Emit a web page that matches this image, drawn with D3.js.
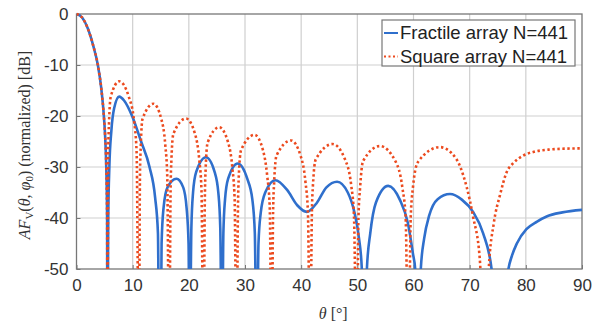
<!DOCTYPE html>
<html>
<head>
<meta charset="utf-8">
<script src="https://cdn.jsdelivr.net/npm/d3@7"></script>
<style>
  body { margin: 0; background: #fff; }
  svg { display: block; }
  .tick text { font-family: "Liberation Sans", Arial, sans-serif; }
</style>
</head>
<body>
<svg id="chart"></svg>
<script>
// values: [theta in degrees, level in dB]
// nulls that go below the axis are given as -70 and clipped
const fractile = [
    [0, 0], [1, -0.7], [2, -2.8], [3, -6.3], [3.8, -10], [4.4, -14.5], [4.8, -19], [5.1, -24], [5.3, -30], [5.45, -40], [5.5, -70],
    [5.65, -40], [5.85, -30], [6.2, -23], [6.7, -18.5], [7.6, -16.2], [8.5, -17], [9.9, -20], [11.5, -25], [13, -30], [14, -36], [14.5, -43], [14.75, -70],
    [14.95, -70], [15.15, -45], [15.5, -38], [16.2, -34], [17.8, -32.3], [19, -34], [19.6, -38], [19.95, -45], [20.15, -70],
    [20.45, -42], [20.75, -35], [21.3, -31], [23.05, -28.1], [24.6, -31], [25.25, -35], [25.6, -42], [25.9, -70],
    [26.15, -43], [26.45, -36.3], [27, -32.3], [28.7, -29.3], [30.4, -32.3], [31.3, -36.3], [31.75, -43], [32.1, -70],
    [32.4, -45], [32.8, -39], [33.6, -35], [35.4, -32.6], [37.5, -34.5], [39.3, -37.5], [41, -38.8], [42.8, -37], [44.5, -34],
    [46.4, -32.9], [48.3, -35], [49.5, -39], [50.3, -44], [50.8, -50], [51.2, -70],
    [51.7, -50], [52.3, -43], [53.3, -37], [55.5, -33.7], [57.6, -36.5], [59, -41], [59.9, -47], [60.3, -50], [60.8, -70],
    [61.3, -50], [61.9, -44], [62.8, -39.5], [64.3, -36.3], [66.5, -35.3], [68.6, -36.4], [70.6, -38.8], [72.4, -43], [73.9, -50], [75.4, -70],
    [76.9, -50], [77.5, -47.5], [78.4, -45], [80.1, -42.2], [82, -40.7], [83.7, -39.7], [86.5, -38.9], [90, -38.4],
];

const square = [
    [0, 0], [1, -0.7], [2, -2.8], [3, -6.3], [3.8, -10], [4.4, -14.5], [4.8, -19], [5.1, -24], [5.3, -30], [5.45, -40], [5.5, -70],
    [5.65, -27], [5.8, -21], [6.1, -16.2], [7.6, -13.2], [9.3, -16.2], [10.25, -21], [10.7, -27], [11.1, -70],
    [11.3, -31.6], [11.45, -25.6], [11.75, -20.6], [13.7, -17.6], [15.1, -20.6], [15.8, -25.6], [16.15, -31.6], [16.5, -70],
    [16.75, -34.5], [16.9, -28.5], [17.25, -23.5], [19.5, -20.5], [21.1, -23.5], [21.85, -28.5], [22.25, -34.5], [22.6, -70],
    [22.85, -36.2], [23, -30.2], [23.35, -25.2], [25.4, -22.2], [27, -25.2], [27.75, -30.2], [28.15, -36.2], [28.5, -70],
    [28.75, -37.7], [28.9, -31.7], [29.3, -26.7], [31.7, -23.7], [33.2, -26.7], [33.95, -31.7], [34.4, -37.7], [34.75, -70],
    [35, -38.8], [35.2, -32.8], [35.6, -27.8], [38.2, -24.8], [39.9, -27.8], [40.75, -32.8], [41.2, -38.8], [41.6, -70],
    [41.9, -39.5], [42.1, -33.5], [42.6, -28.5], [45.6, -25.5], [47.8, -28.5], [48.9, -33.5], [49.4, -39.5], [49.9, -70],
    [50.2, -39.9], [50.5, -33.9], [51, -28.9], [54, -25.9], [56.8, -28.9], [58, -33.9], [58.6, -39.9], [59.1, -70],
    [59.5, -40], [59.9, -34], [60.8, -29], [64.7, -26.1], [66.8, -27.3], [68.3, -29.9], [70.6, -39.7], [71.8, -48], [72.7, -70],
    [73.4, -50], [74.3, -41], [75.4, -35.5], [76.6, -31], [77.8, -29.2], [79.5, -27.8], [81.5, -27], [84, -26.6], [87, -26.4], [90, -26.35],
];

const xTicks = [0, 10, 20, 30, 40, 50, 60, 70, 80, 90];
const yTicks = [0, -10, -20, -30, -40, -50];
const legendLabels = ['Fractile array N=441', 'Square array N=441'];

const width = 602;
const height = 325;
const margin = { top: 14, right: 20, bottom: 56, left: 76.5 };
const blue = '#2f6fcc';
const red = '#ec4a1e';

const svg = d3.select('#chart')
    .attr('width', width)
    .attr('height', height);

const x = d3.scaleLinear().domain([0, 90]).range([margin.left, width - margin.right]);
const y = d3.scaleLinear().domain([-50, 0]).range([height - margin.bottom, margin.top]);

svg.append('clipPath').attr('id', 'plot-clip')
    .append('rect')
    .attr('x', x(0))
    .attr('y', y(0) - 2)
    .attr('width', x(90) - x(0))
    .attr('height', y(-50) - y(0) + 2);

// grid
svg.append('g')
    .selectAll('line')
    .data(xTicks.slice(1, -1))
    .join('line')
    .attr('x1', (d) => x(d)).attr('x2', (d) => x(d))
    .attr('y1', y(0)).attr('y2', y(-50))
    .attr('stroke', '#cfcfcf').attr('stroke-width', 1.2);
svg.append('g')
    .selectAll('line')
    .data(yTicks.slice(1, -1))
    .join('line')
    .attr('x1', x(0)).attr('x2', x(90))
    .attr('y1', (d) => y(d)).attr('y2', (d) => y(d))
    .attr('stroke', '#cfcfcf').attr('stroke-width', 1.2);

// axes
const xAxis = svg.append('g')
    .attr('transform', `translate(0,${y(-50)})`)
    .call(d3.axisBottom(x).tickValues(xTicks).tickSizeInner(-4).tickSizeOuter(0).tickPadding(10));
const yAxis = svg.append('g')
    .attr('transform', `translate(${x(0)},0)`)
    .call(d3.axisLeft(y).tickValues(yTicks).tickSizeInner(-4).tickSizeOuter(0).tickPadding(8)
        .tickFormat((d) => d3.format('d')(d).replace('−', '-')));
[xAxis, yAxis].forEach((g) => {
    g.select('.domain').remove();
    g.selectAll('.tick line').attr('stroke', '#777');
    g.selectAll('.tick text').attr('font-size', 17).attr('fill', '#333');
});

// plot frame
svg.append('rect')
    .attr('x', x(0)).attr('y', y(0))
    .attr('width', x(90) - x(0)).attr('height', y(-50) - y(0))
    .attr('fill', 'none').attr('stroke', '#777').attr('stroke-width', 1.3);

const line = d3.line()
    .x((d) => x(d[0]))
    .y((d) => y(d[1]))
    .curve(d3.curveMonotoneX);

const plot = svg.append('g').attr('clip-path', 'url(#plot-clip)');
plot.append('path')
    .datum(fractile)
    .attr('d', line)
    .attr('fill', 'none')
    .attr('stroke', blue)
    .attr('stroke-width', 2.6);
plot.append('path')
    .datum(square)
    .attr('d', line)
    .attr('fill', 'none')
    .attr('stroke', red)
    .attr('stroke-width', 2.6)
    .attr('stroke-dasharray', '2.4,2.6');

// legend
const legend = svg.append('g');
legend.append('rect')
    .attr('x', 382).attr('y', 20).attr('width', 193).attr('height', 46)
    .attr('fill', '#fff').attr('stroke', '#777').attr('stroke-width', 1.2);
const rows = legend.selectAll('g.row')
    .data(legendLabels)
    .join('g')
    .attr('class', 'row')
    .attr('transform', (d, i) => `translate(383,${33 + i * 23.5})`);
rows.append('line')
    .attr('x1', 1).attr('x2', 15)
    .attr('stroke', (d, i) => (i === 0 ? blue : red))
    .attr('stroke-width', 2)
    .attr('stroke-dasharray', (d, i) => (i === 0 ? null : '2,2.5'));
rows.append('text')
    .attr('x', 17)
    .attr('dy', '0.35em')
    .attr('font-family', '"Liberation Sans", Arial, sans-serif')
    .attr('font-size', 18.5)
    .attr('fill', '#222')
    .text((d) => d);

// axis titles
const serif = '"Liberation Serif", "Times New Roman", serif';
const xTitle = svg.append('text')
    .attr('x', (x(0) + x(90)) / 2 + 4)
    .attr('y', 313)
    .attr('dy', '0.35em')
    .attr('text-anchor', 'middle')
    .attr('font-family', serif)
    .attr('font-size', 16)
    .attr('fill', '#333');
xTitle.append('tspan').attr('font-style', 'italic').text('θ');
xTitle.append('tspan').text(' [°]');

const yTitle = svg.append('text')
    .attr('transform', `translate(24,${145}) rotate(-90)`)
    .attr('dy', '0.35em')
    .attr('text-anchor', 'middle')
    .attr('font-family', serif)
    .attr('font-size', 16)
    .attr('fill', '#333');
yTitle.append('tspan').attr('font-style', 'italic').text('AF');
yTitle.append('tspan').attr('font-size', 11).attr('dy', '0.3em').text('V');
yTitle.append('tspan').attr('dy', '-0.2em').text('(');
yTitle.append('tspan').attr('font-style', 'italic').text('θ');
yTitle.append('tspan').text(', ');
yTitle.append('tspan').attr('font-style', 'italic').text('φ');
yTitle.append('tspan').attr('font-size', 11).attr('dy', '0.3em').text('0');
yTitle.append('tspan').attr('dy', '-0.2em').text(')  (normalized)  [dB]');
</script>
</body>
</html>
